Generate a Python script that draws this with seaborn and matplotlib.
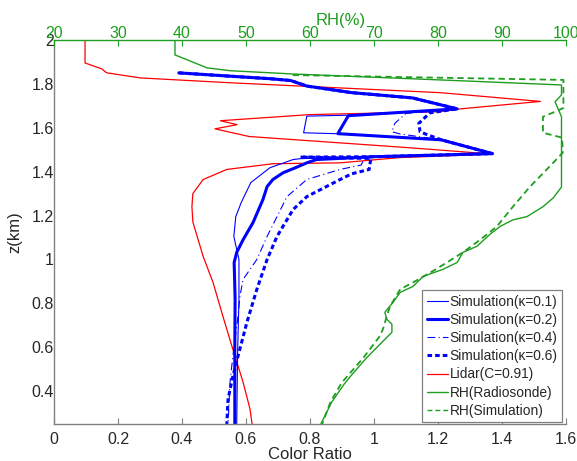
import numpy as np
import seaborn as sns
import matplotlib.pyplot as plt
from matplotlib.lines import Line2D
from matplotlib.ticker import FuncFormatter

# Simulation (kappa=0.1) - colour ratio vs height
z_k01 = [1.85, 1.835, 1.823, 1.815, 1.79, 1.76, 1.736, 1.686, 1.657, 1.653, 1.577, 1.573,
         1.545, 1.49, 1.482, 1.47, 1.459, 1.455, 1.418, 1.35, 1.259, 1.195, 1.105, 1.045,
         1.0, 0.818, 0.59, 0.25]
cr_k01 = [0.39, 0.55, 0.68, 0.74, 0.79, 0.93, 1.12, 1.26, 0.92, 0.79, 0.78, 0.88,
          1.21, 1.35, 1.37, 1.0, 0.77, 0.747, 0.675, 0.615, 0.585, 0.568, 0.562, 0.571,
          0.578, 0.578, 0.574, 0.571]

# Simulation (kappa=0.2)
z_k02 = [1.85, 1.835, 1.823, 1.815, 1.79, 1.76, 1.736, 1.686, 1.655, 1.573, 1.545,
         1.49, 1.482, 1.468, 1.455, 1.44, 1.415, 1.395, 1.364, 1.332, 1.273, 1.168,
         1.09, 1.032, 0.986, 0.818, 0.59, 0.25]
cr_k02 = [0.39, 0.55, 0.68, 0.74, 0.79, 0.93, 1.12, 1.26, 0.92, 0.887, 1.21,
          1.35, 1.37, 1.0, 0.82, 0.79, 0.75, 0.716, 0.684, 0.666, 0.653, 0.622,
          0.591, 0.571, 0.563, 0.566, 0.565, 0.565]

# Simulation (kappa=0.4)
z_k04 = [1.85, 1.835, 1.823, 1.815, 1.79, 1.76, 1.736, 1.686, 1.665, 1.62, 1.582,
         1.572, 1.545, 1.49, 1.482, 1.466, 1.46, 1.43, 1.41, 1.364, 1.286, 1.195,
         1.105, 1.0, 0.909, 0.832, 0.741, 0.559, 0.44, 0.25]
cr_k04 = [0.39, 0.55, 0.68, 0.74, 0.79, 0.93, 1.12, 1.26, 1.10, 1.065, 1.056,
          1.08, 1.21, 1.35, 1.37, 1.0, 0.97, 0.96, 0.894, 0.79, 0.728, 0.697,
          0.666, 0.634, 0.591, 0.581, 0.575, 0.559, 0.55, 0.544]

# Simulation (kappa=0.6)
z_k06 = [1.85, 1.835, 1.823, 1.815, 1.79, 1.76, 1.736, 1.686, 1.668, 1.62, 1.582,
         1.572, 1.545, 1.49, 1.482, 1.468, 1.466, 1.46, 1.41, 1.39, 1.364, 1.286,
         1.227, 1.105, 1.0, 0.864, 0.714, 0.559, 0.468, 0.364, 0.25]
cr_k06 = [0.39, 0.55, 0.68, 0.74, 0.79, 0.93, 1.12, 1.26, 1.175, 1.14, 1.144,
          1.16, 1.21, 1.35, 1.37, 1.0, 0.77, 0.99, 0.985, 0.93, 0.894, 0.79,
          0.747, 0.697, 0.666, 0.634, 0.603, 0.575, 0.559, 0.544, 0.54]

# Lidar (C=0.91)
z_lidar = [2.0, 1.895, 1.868, 1.855, 1.85, 1.827, 1.805, 1.76, 1.72, 1.686, 1.673,
           1.66, 1.632, 1.614, 1.595, 1.56, 1.51, 1.48, 1.464, 1.44, 1.436, 1.41,
           1.364, 1.30, 1.24, 1.17, 1.014, 0.895, 0.74, 0.59, 0.44, 0.318, 0.25]
cr_lidar = [0.097, 0.097, 0.15, 0.16, 0.166, 0.27, 0.55, 1.206, 1.52, 1.27, 1.206,
            0.80, 0.52, 0.572, 0.503, 0.61, 1.10, 1.37, 1.08, 0.894, 0.684, 0.54,
            0.466, 0.434, 0.431, 0.434, 0.466, 0.497, 0.528, 0.559, 0.591, 0.6125, 0.619]

# RH radiosonde (top axis, %)
z_rh_sonde = [2.0, 1.932, 1.873, 1.86, 1.845, 1.818, 1.795, 1.75, 1.718, 1.65, 1.33,
              1.28, 1.24, 1.195, 1.18, 1.15, 1.114, 1.06, 1.032, 0.986, 0.955, 0.923,
              0.877, 0.85, 0.805, 0.759, 0.727, 0.705, 0.668, 0.627, 0.55, 0.47,
              0.43, 0.35, 0.25]
rh_sonde = [38.9, 38.9, 43.9, 47.5, 57.3, 80.3, 99.3, 99.3, 98.3, 99.3, 99.3,
            98.0, 96.4, 93.9, 91.7, 89.7, 88.1, 86.1, 83.9, 83.0, 80.8, 77.7,
            76.1, 74.1, 73.0, 71.7, 72.0, 72.8, 72.8, 71.4, 68.8, 66.4,
            65.3, 63.4, 61.7]

# RH simulation
z_rh_sim = [1.84, 1.818, 1.69, 1.673, 1.65, 1.577, 1.555, 1.486, 1.41, 1.332, 1.24,
            1.15, 1.09, 1.032, 0.986, 0.94, 0.895, 0.864, 0.786, 0.741, 0.682, 0.65,
            0.55, 0.44, 0.35, 0.25]
rh_sim = [57.3, 99.6, 99.6, 98.3, 96.4, 96.4, 99.4, 99.5, 97.0, 94.4, 91.7,
          89.2, 86.6, 83.9, 81.4, 78.8, 76.1, 74.1, 72.5, 72.0, 71.4, 70.9,
          68.3, 65.0, 63.2, 61.9]

x_ticks = [0, 0.2, 0.4, 0.6, 0.8, 1.0, 1.2, 1.4, 1.6]
y_ticks = [0.4, 0.6, 0.8, 1.0, 1.2, 1.4, 1.6, 1.8, 2.0]
rh_ticks = [20, 30, 40, 50, 60, 70, 80, 90, 100]

sns.set_style('white')
plt.rcParams['font.family'] = ['Liberation Sans', 'DejaVu Sans']

GREEN = '#1e9e1e'
GREY = '#808080'
fmt = FuncFormatter(lambda v, p: '%g' % v)

fig = plt.figure(figsize=(5.77, 4.61), dpi=100)
ax = fig.add_axes([0.0936, 0.0803, 0.8873, 0.833])

# colour ratio profiles
sns.lineplot(x=cr_lidar, y=z_lidar, sort=False, estimator=None, ax=ax,
             color='red', lw=0.9)
sns.lineplot(x=cr_k06, y=z_k06, sort=False, estimator=None, ax=ax,
             color='blue', lw=2.2, linestyle=(0, (1.5, 1.0)))
sns.lineplot(x=cr_k04, y=z_k04, sort=False, estimator=None, ax=ax,
             color='blue', lw=0.8, linestyle=(0, (7, 3, 1, 3)))
sns.lineplot(x=cr_k02, y=z_k02, sort=False, estimator=None, ax=ax,
             color='blue', lw=2.2)
sns.lineplot(x=cr_k01, y=z_k01, sort=False, estimator=None, ax=ax,
             color='blue', lw=0.8)

ax.set_xlim(0, 1.6)
ax.set_ylim(0.25, 2)
ax.set_xticks(x_ticks)
ax.set_yticks(y_ticks)
ax.xaxis.set_major_formatter(fmt)
ax.yaxis.set_major_formatter(fmt)
ax.tick_params(direction='in', length=4, color=GREY, labelsize=11.5)
ax.tick_params(axis='x', pad=6)
ax.tick_params(axis='y', pad=0)
ax.set_xlabel('Color Ratio', fontsize=12, labelpad=0)
ax.set_ylabel('z(km)', fontsize=12, labelpad=6.5)
for s in ['top', 'right']:
    ax.spines[s].set_visible(False)
for s in ['left', 'bottom']:
    ax.spines[s].set_color(GREY)
    ax.spines[s].set_linewidth(1.0)

# RH profiles on the top axis
ax2 = ax.twiny()
sns.lineplot(x=rh_sonde, y=z_rh_sonde, sort=False, estimator=None, ax=ax2,
             color=GREEN, lw=1.0)
sns.lineplot(x=rh_sim, y=z_rh_sim, sort=False, estimator=None, ax=ax2,
             color=GREEN, lw=1.3, linestyle=(0, (3.5, 2.2)))
ax2.set_xlim(20, 100)
ax2.set_ylim(0.25, 2)
ax2.set_xticks(rh_ticks)
ax2.tick_params(axis='x', direction='in', length=4, color=GREEN,
                labelcolor=GREEN, labelsize=11.5, pad=-1)
ax2.set_xlabel('RH(%)', fontsize=12, color=GREEN)
ax2.xaxis.set_label_coords(0.56, 1.03)
ax2.xaxis.label.set_verticalalignment('bottom')
for s in ['left', 'right', 'bottom']:
    ax2.spines[s].set_visible(False)
ax2.spines['top'].set_color(GREEN)
ax2.spines['top'].set_linewidth(1.0)

handles = [
    Line2D([], [], color='blue', lw=0.8),
    Line2D([], [], color='blue', lw=2.2),
    Line2D([], [], color='blue', lw=0.8, linestyle=(0, (7, 3, 1, 3))),
    Line2D([], [], color='blue', lw=2.2, linestyle=(0, (1.5, 1.0))),
    Line2D([], [], color='red', lw=0.9),
    Line2D([], [], color=GREEN, lw=1.0),
    Line2D([], [], color=GREEN, lw=1.0, linestyle=(0, (3.5, 2.2))),
]
labels = ['Simulation(κ=0.1)', 'Simulation(κ=0.2)', 'Simulation(κ=0.4)',
          'Simulation(κ=0.6)', 'Lidar(C=0.91)', 'RH(Radiosonde)', 'RH(Simulation)']
leg = ax2.legend(handles, labels, loc='lower right', bbox_to_anchor=(0.993, 0.004),
                 fontsize=9.9, frameon=True, fancybox=False, framealpha=1,
                 edgecolor=GREY, handlelength=1.5, handletextpad=0.15,
                 labelspacing=0.3, borderpad=0.35, borderaxespad=0)
leg.get_frame().set_linewidth(0.9)

fig.savefig('out.png', dpi=100)
